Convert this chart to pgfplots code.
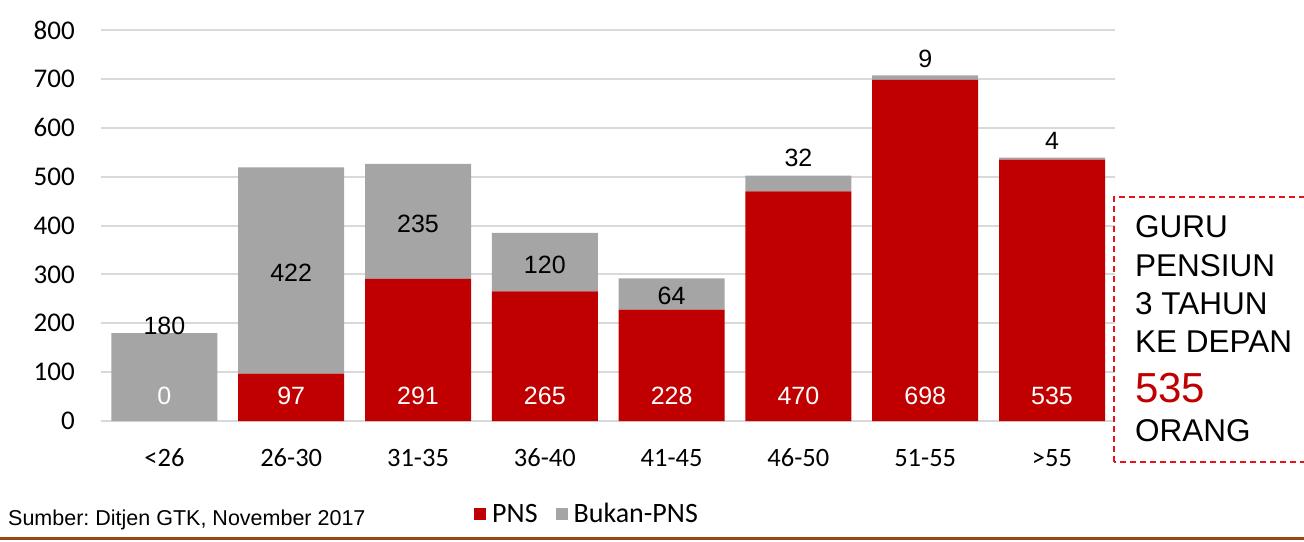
\documentclass[border=0pt]{standalone}
\usepackage{pgfplots}
\pgfplotsset{compat=1.18}
\usepackage{pgfplotstable}
\usepackage{fontspec}
\setmainfont{Liberation Sans}
\newfontfamily\calfont{Carlito}
\frenchspacing
\definecolor{pnsred}{HTML}{C00000}
\definecolor{bukgray}{HTML}{A5A5A5}
\definecolor{gridgray}{HTML}{D9D9D9}
\definecolor{boxred}{HTML}{E2141C}
\definecolor{brownline}{RGB}{150,70,25}
\pgfplotstableread{
x pns bukan
0 0 180
1 97 422
2 291 235
3 265 120
4 228 64
5 470 32
6 698 9
7 535 4
}\data
\begin{document}
\begin{tikzpicture}
\begin{axis}[
  at={(101pt,120pt)}, anchor=south west,
  scale only axis, width=1014.5pt, height=391pt,
  xmin=-0.5, xmax=7.5, ymin=0, ymax=800,
  ybar stacked, bar width=106pt,
  xtick={0,...,7},
  xticklabels={<26,26-30,31-35,36-40,41-45,46-50,51-55,>55},
  ytick={0,100,...,800},
  /pgf/number format/assume math mode=true,
  xticklabel style={font=\calfont\fontsize{26.5}{30}\selectfont, anchor=base, yshift=-45pt, inner sep=0pt},
  yticklabel style={font=\calfont\fontsize{27}{30}\selectfont, anchor=east, xshift=-26pt, inner sep=0pt},
  axis line style={draw=none},
  major tick length=0pt,
  ymajorgrids,
  grid style={draw=gridgray, line width=2pt},
  legend columns=2,
  legend style={at={(axis description cs:0.3677,-0.2379)}, anchor=west,
    draw=none, fill=none, inner sep=0pt,
    font=\calfont\fontsize{28}{30}\selectfont,
    nodes={inner xsep=6pt},
    /tikz/every even column/.append style={column sep=12pt}},
  legend image code/.code={\fill[#1] (0pt,-6pt) rectangle (12pt,6pt);},
]
\addplot[fill=pnsred, draw=none] table[x=x, y=pns] {\data};
\addlegendentry{PNS}
\addplot[fill=bukgray, draw=none] table[x=x, y=bukan] {\data};
\addlegendentry{Bukan-PNS}
\coordinate (w0) at (axis cs:0,52);
\coordinate (w1) at (axis cs:1,52);
\coordinate (w2) at (axis cs:2,52);
\coordinate (w3) at (axis cs:3,52);
\coordinate (w4) at (axis cs:4,52);
\coordinate (w5) at (axis cs:5,52);
\coordinate (w6) at (axis cs:6,52);
\coordinate (w7) at (axis cs:7,52);
\coordinate (g0) at (axis cs:0,194);
\coordinate (g1) at (axis cs:1,303);
\coordinate (g2) at (axis cs:2,403);
\coordinate (g3) at (axis cs:3,319);
\coordinate (g4) at (axis cs:4,256);
\coordinate (g5) at (axis cs:5,538);
\coordinate (g6) at (axis cs:6,740);
\coordinate (g7) at (axis cs:7,574);
\end{axis}
\begin{scope}[every node/.style={inner sep=0pt, font=\fontsize{25}{30}\selectfont}]
\node[text=white] at (w0) {0};
\node[text=white] at (w1) {97};
\node[text=white] at (w2) {291};
\node[text=white] at (w3) {265};
\node[text=white] at (w4) {228};
\node[text=white] at (w5) {470};
\node[text=white] at (w6) {698};
\node[text=white] at (w7) {535};
\node at (g0) {180};
\node at (g1) {422};
\node at (g2) {235};
\node at (g3) {120};
\node at (g4) {64};
\node at (g5) {32};
\node at (g6) {9};
\node at (g7) {4};
\end{scope}
% dashed box
\draw[boxred, line width=2pt, dash pattern=on 6pt off 4pt] (1114pt,79pt) rectangle (1330pt,344pt);
\begin{scope}[every node/.style={inner sep=0pt, anchor=base west, font=\fontsize{31.5}{36}\selectfont}]
\node at (1135pt,303pt) {GURU};
\node at (1135pt,264pt) {PENSIUN};
\node at (1135pt,226pt) {3 TAHUN};
\node at (1135pt,188pt) {KE DEPAN};
\node[text=pnsred, font=\fontsize{42}{44}\selectfont] at (1135pt,138pt) {535};
\node at (1135pt,99pt) {ORANG};
\end{scope}
\node[inner sep=0pt, anchor=base west, font=\fontsize{21.5}{24}\selectfont] at (8pt,16pt) {Sumber: Ditjen GTK, November 2017};
\draw[brownline, line width=3pt] (0pt,3pt) -- (1304pt,3pt);
\pgfresetboundingbox
\path[use as bounding box] (0pt,0pt) rectangle (1304pt,541pt);
\end{tikzpicture}
\end{document}
